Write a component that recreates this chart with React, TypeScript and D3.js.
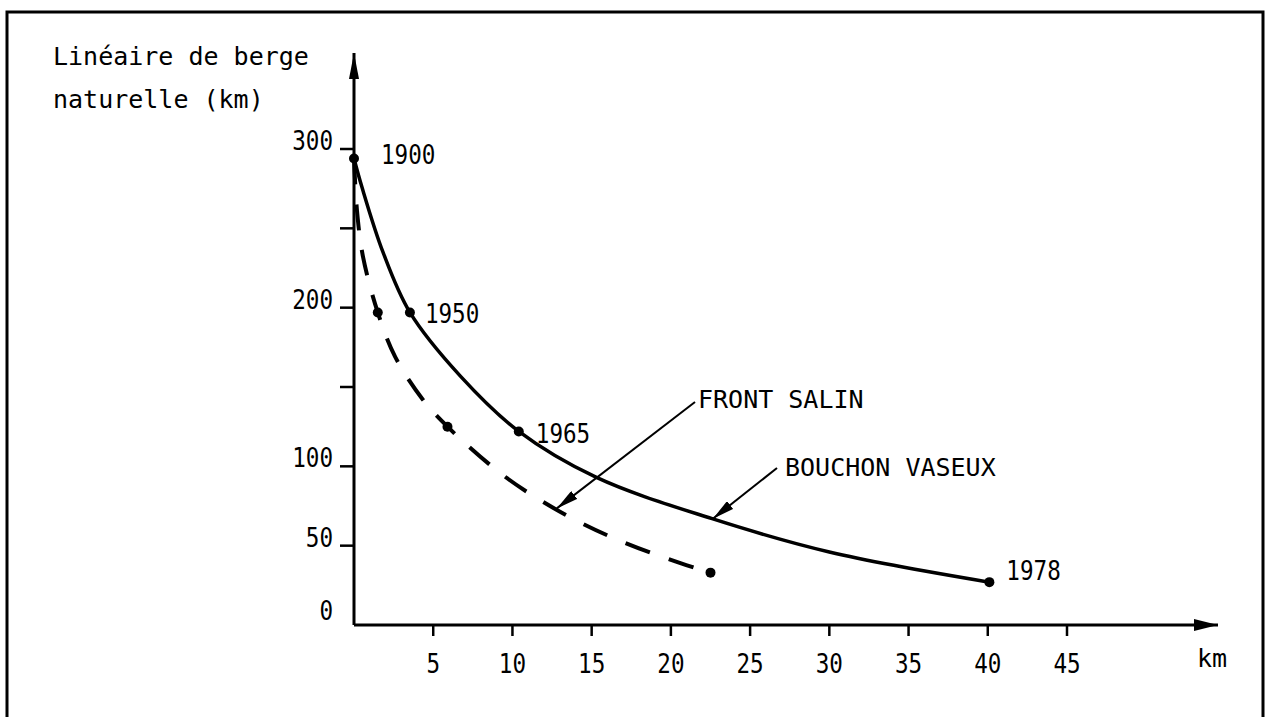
import { useEffect, useRef } from 'react';
import * as d3 from 'd3';

// values
const yTicks = [50, 100, 150, 200, 250, 300];
const yLabels = [0, 50, 100, 200, 300];
const xTicks = [5, 10, 15, 20, 25, 30, 35, 40, 45];

// BOUCHON VASEUX (solid): [km, berge km]
const bouchonCurve: [number, number][] = [
  [0, 294], [0.5, 276], [1.83, 235], [3.53, 197], [6.7, 157], [10.4, 122],
  [15.3, 93], [22.6, 67], [30, 46], [40.1, 27],
];
const bouchonDots: [number, number][] = [[0, 294], [3.53, 197], [10.4, 122], [40.1, 27]];
const years = ['1900', '1950', '1965', '1978'];

// FRONT SALIN (dashed)
const frontCurve: [number, number][] = [
  [0, 294], [0.19, 261], [0.57, 232], [1.5, 197], [2.6, 169], [4.35, 142],
  [5.9, 125], [9.2, 96], [11.7, 79], [14.4, 64], [17.3, 51], [20.6, 39], [22.5, 33],
];
const frontDots: [number, number][] = [[1.5, 197], [5.9, 125], [22.5, 33]];

const FONT = 'DejaVu Sans Mono';

const App = () => {
  const ref = useRef<SVGSVGElement>(null);

  useEffect(() => {
    const width = 1270;
    const height = 717;
    const svg = d3.select(ref.current);
    svg.selectAll('*').remove();
    svg.attr('width', width).attr('height', height);

    const x = d3.scaleLinear().domain([0, 45]).range([354, 1067]);
    const y = d3.scaleLinear().domain([0, 300]).range([625, 149]);

    const defs = svg.append('defs');
    defs.append('marker')
      .attr('id', 'tip')
      .attr('viewBox', '0 0 22 10')
      .attr('refX', 22).attr('refY', 5)
      .attr('markerWidth', 22).attr('markerHeight', 10)
      .attr('markerUnits', 'userSpaceOnUse')
      .attr('orient', 'auto')
      .append('path').attr('d', 'M0,0 L22,5 L0,10 Z').attr('fill', '#000');

    // frame
    svg.append('path')
      .attr('d', 'M7,730 L7,12 L1263,12 L1263,730')
      .attr('fill', 'none').attr('stroke', '#000').attr('stroke-width', 3);

    // axes
    svg.append('line')
      .attr('x1', x(0)).attr('y1', y(0)).attr('x2', 1218).attr('y2', y(0))
      .attr('stroke', '#000').attr('stroke-width', 3);
    svg.append('path')
      .attr('d', `M1218,${y(0)} L1194,${y(0) - 6} L1194,${y(0) + 6} Z`).attr('fill', '#000');
    svg.append('line')
      .attr('x1', x(0)).attr('y1', y(0)).attr('x2', x(0)).attr('y2', 53)
      .attr('stroke', '#000').attr('stroke-width', 3);
    svg.append('path')
      .attr('d', `M${x(0)},53 L${x(0) - 5},79 L${x(0) + 5},79 Z`).attr('fill', '#000');

    svg.selectAll('line.yt').data(yTicks).enter().append('line')
      .attr('x1', x(0) - 14).attr('x2', x(0))
      .attr('y1', (d) => y(d)).attr('y2', (d) => y(d))
      .attr('stroke', '#000').attr('stroke-width', 2.5);
    svg.selectAll('line.xt').data(xTicks).enter().append('line')
      .attr('x1', (d) => x(d)).attr('x2', (d) => x(d))
      .attr('y1', y(0)).attr('y2', y(0) + 11)
      .attr('stroke', '#000').attr('stroke-width', 2.5);

    const digits = (sel: any, s: (d: any) => string) =>
      sel.attr('font-family', FONT).attr('font-size', 26)
        .attr('textLength', (d: any) => s(d).length * 13.6)
        .attr('lengthAdjust', 'spacingAndGlyphs')
        .text(s);

    svg.selectAll('text.yl').data(yLabels).enter().append('text')
      .attr('x', 333).attr('y', (d) => (d === 0 ? y(d) - 5 : y(d) + 1))
      .attr('text-anchor', 'end')
      .call(digits, (d: number) => String(d));
    svg.selectAll('text.xl').data(xTicks).enter().append('text')
      .attr('x', (d) => x(d)).attr('y', 673)
      .attr('text-anchor', 'middle')
      .call(digits, (d: number) => String(d));

    // curves
    const line = d3.line<[number, number]>()
      .x((d) => x(d[0])).y((d) => y(d[1]))
      .curve(d3.curveCatmullRom.alpha(0.5));
    svg.append('path').datum(bouchonCurve).attr('d', line)
      .attr('fill', 'none').attr('stroke', '#000').attr('stroke-width', 3.5);
    svg.append('path').datum(frontCurve).attr('d', line)
      .attr('fill', 'none').attr('stroke', '#000').attr('stroke-width', 4)
      .attr('stroke-dasharray', '26 20');

    svg.selectAll('circle.d').data([...bouchonDots, ...frontDots]).enter().append('circle')
      .attr('cx', (d) => x(d[0])).attr('cy', (d) => y(d[1])).attr('r', 5).attr('fill', '#000');

    const yearOffsets = [[27, 5], [15, 11], [17, 12], [17, -2]];
    svg.selectAll('text.yr').data(years).enter().append('text')
      .attr('x', (_d, i) => x(bouchonDots[i][0]) + yearOffsets[i][0])
      .attr('y', (_d, i) => y(bouchonDots[i][1]) + yearOffsets[i][1])
      .call(digits, (d: string) => d);

    // annotations
    const txt = (s: string, tx: number, ty: number) =>
      svg.append('text').attr('x', tx).attr('y', ty)
        .attr('font-family', FONT).attr('font-size', 25).text(s);

    txt('Linéaire de berge', 53, 65);
    txt('naturelle (km)', 53, 108);
    txt('FRONT SALIN', 698, 408);
    txt('BOUCHON VASEUX', 785, 476);
    txt('km', 1197, 667);

    svg.append('line')
      .attr('x1', 695).attr('y1', 402).attr('x2', x(12.8)).attr('y2', y(73.5))
      .attr('stroke', '#000').attr('stroke-width', 2).attr('marker-end', 'url(#tip)');
    svg.append('line')
      .attr('x1', 777).attr('y1', 468).attr('x2', x(22.65)).attr('y2', y(67))
      .attr('stroke', '#000').attr('stroke-width', 2).attr('marker-end', 'url(#tip)');
  }, []);

  return (
    <svg ref={ref} style={{ position: 'absolute', left: 0, top: 0, background: '#fff' }} />
  );
};

export default App;
